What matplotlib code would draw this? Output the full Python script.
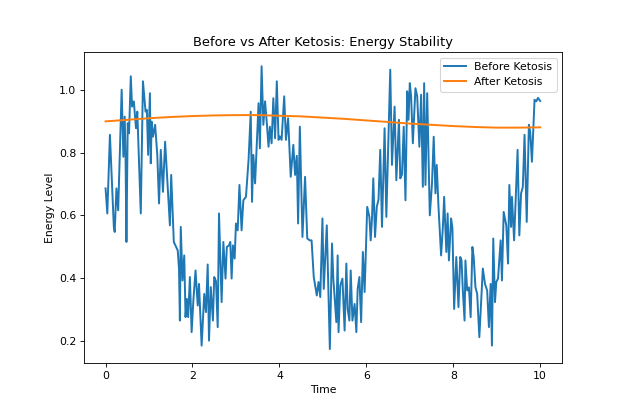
import matplotlib
matplotlib.use('Agg')
import matplotlib.pyplot as plt

# values
time = [0.00, 0.04, 0.10, 0.19, 0.21, 0.25, 0.29, 0.37, 0.41, 0.44, 0.46, 0.48, 0.51, 0.54,
        0.58, 0.61, 0.65, 0.70, 0.73, 0.81, 0.86, 0.92, 0.95, 0.98, 1.02, 1.04, 1.06, 1.09,
        1.14, 1.19, 1.23, 1.27, 1.32, 1.37, 1.42, 1.48, 1.51, 1.57, 1.66, 1.69, 1.71, 1.73,
        1.77, 1.81, 1.84, 1.87, 1.90, 1.94, 1.98, 2.02, 2.07, 2.12, 2.15, 2.21, 2.27, 2.31,
        2.35, 2.38, 2.42, 2.47, 2.50, 2.54, 2.58, 2.61, 2.67, 2.71, 2.76, 2.79, 2.84, 2.87,
        2.90, 2.93, 2.97, 3.00, 3.04, 3.08, 3.13, 3.17, 3.23, 3.29, 3.34, 3.37, 3.40, 3.44,
        3.48, 3.52, 3.55, 3.59, 3.63, 3.67, 3.71, 3.75, 3.78, 3.82, 3.86, 3.90, 3.94, 3.98,
        4.01, 4.05, 4.11, 4.15, 4.20, 4.26, 4.32, 4.36, 4.40, 4.43, 4.47, 4.53, 4.59, 4.64,
        4.70, 4.74, 4.79, 4.86, 4.90, 4.94, 4.99, 5.02, 5.09, 5.16, 5.21, 5.24, 5.31, 5.34,
        5.36, 5.40, 5.45, 5.50, 5.54, 5.57, 5.61, 5.64, 5.68, 5.73, 5.77, 5.80, 5.84, 5.88,
        5.92, 5.96, 6.02, 6.07, 6.10, 6.13, 6.16, 6.20, 6.24, 6.28, 6.32, 6.36, 6.42, 6.46,
        6.55, 6.59, 6.65, 6.69, 6.75, 6.78, 6.82, 6.86, 6.90, 6.94, 6.97, 7.00, 7.03, 7.07,
        7.13, 7.17, 7.22, 7.26, 7.30, 7.33, 7.36, 7.40, 7.46, 7.51, 7.55, 7.59, 7.62, 7.66,
        7.72, 7.76, 7.79, 7.84, 7.87, 7.90, 7.95, 7.98, 8.02, 8.07, 8.12, 8.16, 8.19, 8.22,
        8.26, 8.28, 8.32, 8.36, 8.40, 8.44, 8.47, 8.51, 8.55, 8.60, 8.68, 8.73, 8.78, 8.82,
        8.86, 8.89, 8.92, 8.96, 8.99, 9.03, 9.09, 9.12, 9.16, 9.22, 9.26, 9.29, 9.33, 9.35,
        9.40, 9.43, 9.48, 9.52, 9.56, 9.60, 9.64, 9.69, 9.74, 9.77, 9.81, 9.87, 9.91, 9.95,
        10.00]
before = [0.686, 0.606, 0.857, 0.563, 0.547, 0.686, 0.616, 1.001, 0.787, 0.915, 0.782, 0.515, 0.894, 0.862,
          1.044, 0.947, 0.964, 0.878, 0.931, 0.606, 1.028, 0.931, 0.937, 0.793, 0.990, 0.766, 0.899, 0.851,
          0.889, 0.793, 0.638, 0.809, 0.675, 0.835, 0.712, 0.568, 0.729, 0.515, 0.488, 0.430, 0.264, 0.563,
          0.392, 0.472, 0.275, 0.333, 0.275, 0.403, 0.227, 0.328, 0.424, 0.312, 0.381, 0.184, 0.349, 0.291,
          0.443, 0.200, 0.371, 0.264, 0.403, 0.390, 0.243, 0.606, 0.323, 0.515, 0.398, 0.499, 0.504, 0.515,
          0.398, 0.504, 0.462, 0.574, 0.552, 0.697, 0.552, 0.648, 0.659, 0.777, 0.931, 0.643, 0.793, 0.702,
          0.830, 0.958, 0.814, 1.076, 0.889, 0.964, 0.894, 0.819, 0.883, 0.830, 0.974, 0.846, 1.028, 0.841,
          0.852, 0.841, 0.980, 0.841, 0.910, 0.723, 0.825, 0.729, 0.790, 0.574, 0.883, 0.531, 0.723, 0.526,
          0.520, 0.520, 0.403, 0.344, 0.387, 0.339, 0.590, 0.365, 0.568, 0.173, 0.510, 0.398, 0.259, 0.472,
          0.227, 0.376, 0.398, 0.232, 0.446, 0.301, 0.264, 0.424, 0.264, 0.317, 0.227, 0.365, 0.403, 0.259,
          0.483, 0.355, 0.627, 0.595, 0.520, 0.590, 0.718, 0.531, 0.627, 0.650, 0.809, 0.563, 0.878, 0.595,
          1.065, 0.761, 0.947, 0.712, 0.905, 0.718, 0.730, 0.883, 0.648, 0.996, 0.905, 1.022, 0.980, 0.830,
          1.006, 0.980, 0.819, 0.985, 0.691, 1.022, 0.697, 0.990, 0.600, 0.700, 0.851, 0.670, 0.761, 0.627,
          0.472, 0.560, 0.659, 0.483, 0.606, 0.456, 0.590, 0.560, 0.301, 0.467, 0.307, 0.467, 0.456, 0.360,
          0.264, 0.456, 0.360, 0.370, 0.275, 0.499, 0.467, 0.371, 0.349, 0.211, 0.430, 0.381, 0.360, 0.243,
          0.381, 0.184, 0.526, 0.323, 0.387, 0.398, 0.520, 0.392, 0.611, 0.568, 0.446, 0.697, 0.563, 0.659,
          0.520, 0.627, 0.809, 0.536, 0.670, 0.690, 0.857, 0.579, 0.889, 0.867, 0.771, 0.969, 0.964, 0.975,
          0.965]

time_after = [0.0, 0.5, 1.0, 1.5, 2.0, 2.5, 3.0, 3.5, 4.0, 4.5, 5.0,
              5.5, 6.0, 6.5, 7.0, 7.5, 8.0, 8.5, 9.0, 9.5, 10.0]
after = [0.900, 0.905, 0.910, 0.914, 0.917, 0.919, 0.920, 0.920, 0.918, 0.916, 0.912,
         0.908, 0.903, 0.898, 0.893, 0.889, 0.885, 0.882, 0.880, 0.880, 0.881]

# reference looks like a bigger figure scaled down, so draw at a lower dpi
fig = plt.figure(figsize=(640 / 78, 404 / 78), dpi=78)
ax = fig.add_subplot(111)
fig.subplots_adjust(left=0.131, right=0.878, top=0.871, bottom=0.101)

ax.plot(time, before, label='Before Ketosis', linewidth=1.8)
ax.plot(time_after, after, label='After Ketosis', linewidth=1.8)

ax.set_title('Before vs After Ketosis: Energy Stability')
ax.set_xlabel('Time')
ax.set_ylabel('Energy Level')
ax.legend(loc='upper right')

fig.savefig('out.png', dpi=78)
